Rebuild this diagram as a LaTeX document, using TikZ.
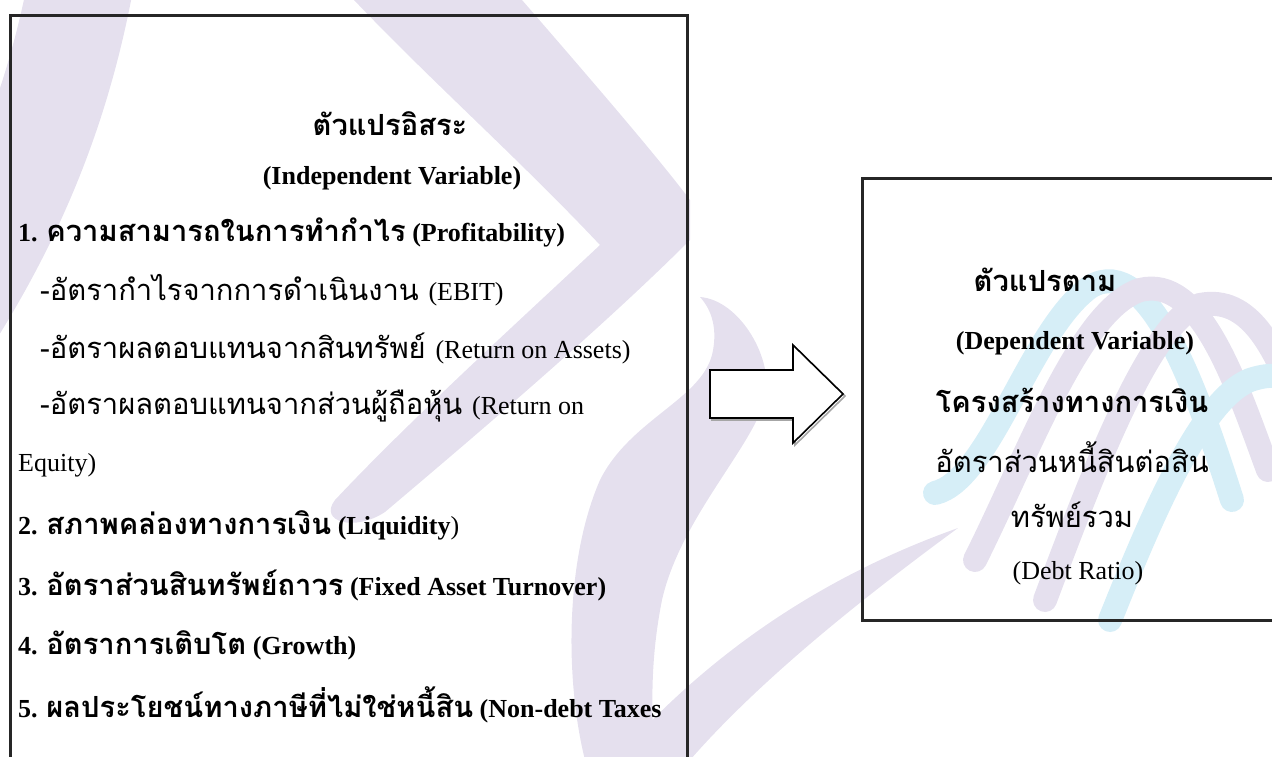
\documentclass[tikz,border=0pt]{standalone}
\usepackage{fontspec}
\setmainfont{Liberation Serif}
\newfontfamily\thai[Script=Thai,Scale=1.12]{Loma}
\begin{document}
\begin{tikzpicture}[x=1pt,y=-1pt,
  boxline/.style={draw=black!85,line width=3pt},
  lt/.style={anchor=west,inner sep=0pt,font=\fontsize{26}{30}\selectfont},
  ct/.style={anchor=center,inner sep=0pt,font=\fontsize{26}{30}\selectfont},
  arrowshape/.style={draw=black,line width=1.6pt,fill=white},
  lav/.style={fill=wmlav,draw=none},
  rib/.style={line width=24pt,line cap=round}]
\useasboundingbox (0,0) rectangle (1272,756);
\definecolor{wmlav}{RGB}{229,224,238}
\definecolor{wmblue}{RGB}{214,238,247}
% ---- watermark ----
\begin{scope}
\clip (0,0) rectangle (1272,756);
% top-left arc
\draw[wmlav,line width=105pt] (85,-40) .. controls (65,80) and (25,200) .. (-60,330);
% chevron: band from top going down-right, turning down-left
\path[lav] (354,0) -- (522,0) .. controls (600,90) and (660,160) .. (690,200)
  -- (690,240) .. controls (600,330) and (470,440) .. (385,512)
  .. controls (355,532) and (318,522) .. (335,500)
  .. controls (410,420) and (520,320) .. (600,245)
  .. controls (520,160) and (430,80) .. (354,0) -- cycle;
% teardrop band coming down into the left box
\path[lav] (700,297) .. controls (740,300) and (775,360) .. (765,400)
  .. controls (750,450) and (680,520) .. (662,600)
  .. controls (652,650) and (650,700) .. (655,760) -- (585,760)
  .. controls (565,680) and (565,560) .. (600,480)
  .. controls (630,420) and (700,400) .. (712,355)
  .. controls (718,330) and (712,310) .. (700,297) -- cycle;
% lower swoosh
\path[lav] (958,528) .. controls (840,570) and (720,640) .. (615,760)
  -- (690,760) .. controls (760,680) and (860,600) .. (958,528) -- cycle;
% helix ribbons
\draw[wmblue,rib] (935,493) .. controls (990,480) and (1030,330) .. (1090,287)
  .. controls (1150,250) and (1200,400) .. (1232,500);
\draw[wmlav,rib] (975,560) .. controls (1030,450) and (1080,310) .. (1140,290)
  .. controls (1200,275) and (1235,380) .. (1268,470);
\draw[wmlav,rib] (1045,600) .. controls (1090,480) and (1150,320) .. (1200,305)
  .. controls (1250,295) and (1275,350) .. (1295,400);
\draw[wmblue,rib] (1110,620) .. controls (1150,520) and (1200,400) .. (1250,380)
  .. controls (1280,370) and (1290,380) .. (1300,390);
\end{scope}
% ---- left box ----
\draw[boxline] (10,15) rectangle (687,800);
\node[ct] (t1) at (390,124) {\thai\bfseries ตัวแปรอิสระ};
\node[ct] (t2) at (392,178) {\bfseries (Independent Variable)};
\node[lt] (i1) at (18,232) {\bfseries 1. {\thai ความสามารถในการทำกำไร} (Profitability)};
\node[lt] (s1) at (40,290) {\thai -อัตรากำไรจากการดำเนินงาน {\rmfamily (EBIT)}};
\node[lt] (s2) at (40,348) {\thai -อัตราผลตอบแทนจากสินทรัพย์ {\rmfamily (Return on Assets)}};
\node[lt] (s3) at (40,406) {\thai -อัตราผลตอบแทนจากส่วนผู้ถือหุ้น {\rmfamily (Return on}};
\node[lt] (s4) at (18,465) {Equity)};
\node[lt] (i2) at (18,525) {\bfseries 2. {\thai สภาพคล่องทางการเงิน} (Liquidity\mdseries)};
\node[lt] (i3) at (18,585) {\bfseries 3. {\thai อัตราส่วนสินทรัพย์ถาวร} (Fixed Asset Turnover)};
\node[lt] (i4) at (18,645) {\bfseries 4. {\thai อัตราการเติบโต} (Growth)};
\node[lt] (i5) at (18,705) {\bfseries 5. {\thai ผลประโยชน์ทางภาษีที่ไม่ใช่หนี้สิน} (Non-debt Taxes};
% ---- right box ----
\draw[boxline] (862,178) rectangle (1300,620);
\node[ct] (r1) at (1045,280) {\thai\bfseries ตัวแปรตาม};
\node[ct] (r2) at (1075,343) {\bfseries (Dependent Variable)};
\node[ct] (r3) at (1072,400) {\thai\bfseries โครงสร้างทางการเงิน};
\node[ct] (r4) at (1072,457) {\thai อัตราส่วนหนี้สินต่อสิน};
\node[ct] (r5) at (1072,515) {\thai ทรัพย์รวม};
\node[ct] (r6) at (1078,573) {(Debt Ratio)};
% ---- block arrow ----
\coordinate (a1) at (710,370);
\draw[black!35,line width=1.6pt,shift={(2,2)}] (710,370) -- (793,370) -- (793,345) -- (843,394) -- (793,443) -- (793,418) -- (710,418) -- cycle;
\draw[arrowshape] (a1) -- (793,370) -- (793,345) -- (843,394) -- (793,443) -- (793,418) -- (710,418) -- cycle;
\end{tikzpicture}
\end{document}
